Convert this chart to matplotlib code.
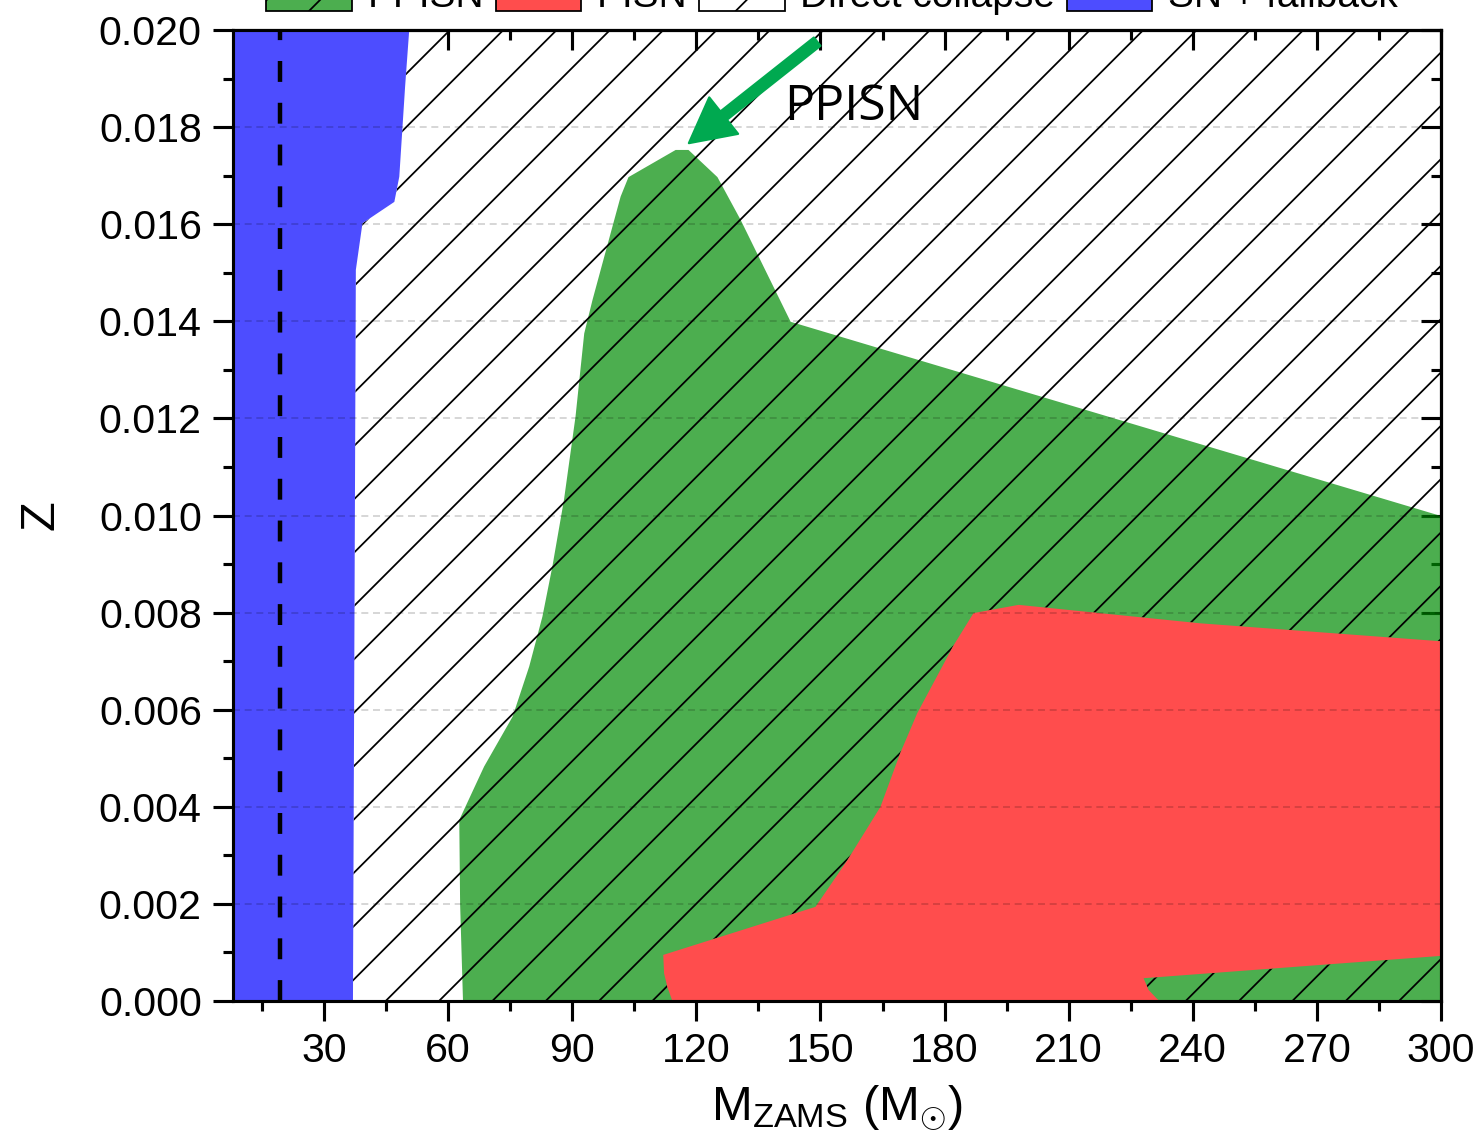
import numpy as np
import matplotlib
matplotlib.use("Agg")
import matplotlib.pyplot as plt
from matplotlib.patches import Patch, PathPatch
from matplotlib.path import Path
from matplotlib.ticker import MultipleLocator, FormatStrFormatter, NullFormatter

# ---------------------------------------------------------------------------
# Region boundaries  (M_ZAMS [Msun], Z)
# ---------------------------------------------------------------------------

# SN + fallback: right-hand edge of the blue band
blue_m = [37.0, 37.7, 39.3, 47.0, 48.2, 49.6, 50.6]
blue_z = [0.0, 0.01506, 0.01602, 0.01646, 0.01698, 0.01883, 0.0200]

# PPISN outline
green_m = [63.6, 62.9, 62.7, 68.7, 75.6, 79.6, 82.8, 85.2, 88.0, 90.8, 92.9, 94.9,
           99.3, 101.7, 103.6, 115.0, 118.1, 125.1, 130.7, 142.8, 300.0, 300.0]
green_z = [0.0, 0.0020, 0.00373, 0.00483, 0.00586, 0.00689, 0.00792, 0.00895, 0.01032,
           0.01204, 0.01375, 0.01444, 0.01582, 0.01657, 0.01697, 0.01753, 0.01753,
           0.01697, 0.01609, 0.01399, 0.00999, 0.0]

# PISN outline
red_m = [114.2, 232.0, 231.3, 229.3, 228.1, 300.0, 300.0, 241.8, 197.9, 187.0, 182.2,
         173.4, 169.3, 164.5, 156.5, 148.8, 112.0, 112.2, 113.0]
red_z = [0.0, 0.0, 0.00005, 0.00023, 0.00047, 0.00093, 0.00741, 0.00778, 0.00816,
         0.00799, 0.00733, 0.00593, 0.00511, 0.00400, 0.00290, 0.00194, 0.00095,
         0.00057, 0.00029]

ref_mass = 19.3                 # dashed vertical marker
arrow_tip = (118.2, 0.01767)
arrow_tail = (149.2, 0.01976)
label_pos = (141.1, 0.01841)

XLIM = (8, 300)
YLIM = (0, 0.020)

BLUE = "#4D4DFF"
RED = "#FF4D4D"
GREEN = (0.0, 0.55, 0.02, 0.7)
ARROW_GREEN = "#00A950"

plt.rcParams["font.family"] = "Liberation Sans"
plt.rcParams["mathtext.fontset"] = "custom"
plt.rcParams["mathtext.rm"] = "Liberation Sans"
plt.rcParams["mathtext.it"] = "Liberation Sans:italic"
plt.rcParams["hatch.linewidth"] = 0.8


def ring(m, z, ccw):
    """Closed polygon as path pieces, forced to the given orientation."""
    pts = np.column_stack([m, z])
    area = 0.5 * np.sum(pts[:, 0] * np.roll(pts[:, 1], -1) - np.roll(pts[:, 0], -1) * pts[:, 1])
    if (area > 0) != ccw:
        pts = pts[::-1]
    verts = np.vstack([pts, pts[:1]])
    codes = [Path.MOVETO] + [Path.LINETO] * (len(pts) - 1) + [Path.CLOSEPOLY]
    return verts, codes


DPI = 160
fig = plt.figure(figsize=(1483 / DPI, 1146 / DPI), dpi=DPI)
ax = fig.add_axes([0.1571, 0.1265, 0.8146, 0.8473])
ax.set_axisbelow(False)

# PPISN (green) fill
ax.fill(green_m, green_z, facecolor=GREEN, edgecolor="none", lw=0, zorder=1)

# Direct collapse hatch: everything right of the blue band, PISN cut out
outer_m = list(blue_m) + [XLIM[1], XLIM[1]]
outer_z = list(blue_z) + [YLIM[1], YLIM[0]]
v1, c1 = ring(outer_m, outer_z, ccw=False)
v2, c2 = ring(red_m, red_z, ccw=True)
hatch_path = Path(np.vstack([v1, v2]), c1 + c2)
ax.add_patch(PathPatch(hatch_path, facecolor="none", edgecolor="black",
                       hatch="/", lw=0, zorder=1.1))

# PISN (red) and SN + fallback (blue)
ax.fill(red_m, red_z, facecolor=RED, edgecolor="none", lw=0, zorder=1.2)
ax.fill_betweenx(blue_z, 0, blue_m, facecolor=BLUE, edgecolor="none", lw=0, zorder=1.2)

ax.axvline(ref_mass, color="black", lw=2.0, linestyle=(0, (4.7, 4.7)), zorder=3)

# arrow + label
ax.annotate("", xy=arrow_tip, xytext=arrow_tail,
            arrowprops=dict(arrowstyle="simple,head_length=1.05,head_width=1.1,tail_width=0.25",
                            color=ARROW_GREEN, mutation_scale=19, shrinkA=0, shrinkB=0),
            zorder=4)
ax.text(label_pos[0], label_pos[1], "PPISN", family="Open Sans", fontsize=22.5,
        ha="left", va="center", zorder=4)

ax.set_xlim(*XLIM)
ax.set_ylim(*YLIM)

ax.xaxis.set_major_locator(MultipleLocator(30))
ax.xaxis.set_minor_locator(MultipleLocator(15))
ax.yaxis.set_major_locator(MultipleLocator(0.002))
ax.yaxis.set_minor_locator(MultipleLocator(0.001))
ax.yaxis.set_major_formatter(FormatStrFormatter("%.3f"))

for sp in ax.spines.values():
    sp.set_linewidth(1.4)
ax.tick_params(which="both", direction="out", width=1.4, labelsize=18.5, pad=5)
ax.tick_params(which="major", length=9)
ax.tick_params(which="minor", length=4.5)

# translucent grid drawn over the coloured regions
ax.grid(True, axis="y", which="major", color="black", alpha=0.2, linewidth=0.7,
        linestyle=(0, (4.5, 3.0)))

# mirrored ticks pointing inward on top / right
secx = ax.secondary_xaxis("top")
secx.xaxis.set_major_locator(MultipleLocator(30))
secx.xaxis.set_minor_locator(MultipleLocator(15))
secx.xaxis.set_major_formatter(NullFormatter())
secx.tick_params(which="both", direction="in", width=1.4)
secx.tick_params(which="major", length=9)
secx.tick_params(which="minor", length=4.5)
secx.spines["top"].set_linewidth(1.4)

secy = ax.secondary_yaxis("right")
secy.yaxis.set_major_locator(MultipleLocator(0.002))
secy.yaxis.set_minor_locator(MultipleLocator(0.001))
secy.yaxis.set_major_formatter(NullFormatter())
secy.tick_params(which="both", direction="in", width=1.4)
secy.tick_params(which="major", length=9)
secy.tick_params(which="minor", length=4.5)
secy.spines["right"].set_linewidth(1.4)

ax.set_xlabel(r"M$_{\mathregular{ZAMS}}$ (M$_{\odot}$)", fontsize=22, labelpad=6)
ax.set_ylabel("Z", fontsize=22, labelpad=16)

handles = [
    Patch(facecolor=GREEN, edgecolor="black", hatch="/", lw=0.8, label="PPISN"),
    Patch(facecolor=RED, edgecolor="black", lw=0.8, label="PISN"),
    Patch(facecolor="white", edgecolor="black", hatch="/", lw=0.8, label="Direct collapse"),
    Patch(facecolor=BLUE, edgecolor="black", lw=0.8, label="SN + fallback"),
]
fig.legend(handles=handles, loc="center", bbox_to_anchor=(0.561, 1.004), ncol=4,
           frameon=False, fontsize=17.5, handlelength=2.2, handleheight=1.0,
           handletextpad=0.4, columnspacing=0.3)

fig.savefig("out.png", dpi=DPI)
